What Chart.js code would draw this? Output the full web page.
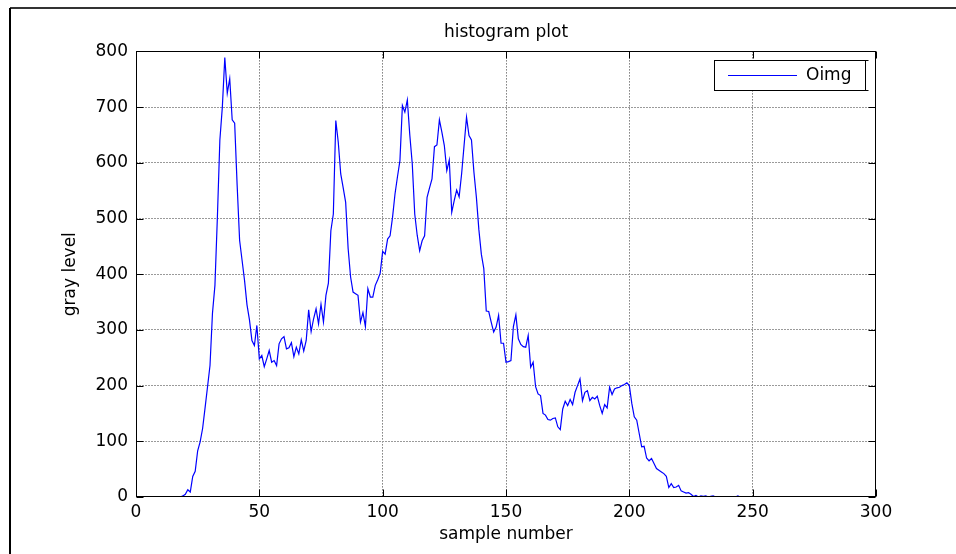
<!DOCTYPE html>
<html>
<head>
<meta charset="utf-8">
<title>histogram plot</title>
<script src="https://cdn.jsdelivr.net/npm/chart.js@4/dist/chart.umd.min.js"></script>
<style>
  html, body { margin: 0; padding: 0; background: #fff; }
  canvas { display: block; }
</style>
</head>
<body>
<canvas id="histChart" width="956" height="554"></canvas>
<script>
// gray level count per sample (sample 1..256)
const grayLevels = [
  0, 0, 0, 0, 0, 0, 0, 0, 0, 0,
  0, 0, 0, 0, 0, 0, 0, 0, 2, 5,
  13, 9, 37, 46, 83, 99, 123, 160, 198, 236,
  330, 380, 503, 641, 700, 789, 725, 751, 677, 671,
  560, 461, 425, 389, 345, 318, 281, 272, 308, 248,
  254, 234, 248, 263, 242, 245, 236, 275, 284, 288,
  266, 268, 277, 252, 269, 257, 282, 262, 281, 336,
  297, 320, 338, 311, 346, 314, 362, 384, 478, 508,
  676, 637, 580, 555, 529, 446, 395, 368, 365, 362,
  314, 331, 306, 374, 359, 359, 380, 390, 402, 441,
  436, 463, 469, 502, 544, 575, 604, 703, 691, 713,
  650, 598, 508, 470, 442, 460, 469, 538, 555, 571,
  629, 632, 677, 655, 631, 586, 605, 511, 532, 551,
  539, 580, 631, 682, 649, 641, 583, 538, 480, 436,
  410, 334, 333, 314, 296, 305, 326, 276, 276, 242,
  243, 245, 306, 327, 284, 274, 270, 269, 290, 233,
  242, 198, 185, 182, 150, 147, 139, 138, 141, 142,
  126, 121, 158, 172, 164, 175, 166, 188, 200, 212,
  173, 188, 191, 173, 179, 176, 181, 164, 150, 166,
  160, 197, 184, 194, 196, 197, 200, 202, 205, 200,
  168, 144, 138, 114, 90, 91, 70, 65, 69, 60,
  51, 48, 45, 42, 37, 17, 24, 17, 18, 21,
  11, 9, 7, 8, 5, 1, 3, 0, 2, 1,
  2, 0, 1, 2, 0, 0, 0, 0, 0, 0,
  0, 0, 0, 2, 0, 0, 0, 0, 0, 0,
  0, 0, 0, 0, 0, 0
];
const xTickValues = [0, 50, 100, 150, 200, 250, 300];
const yTickValues = [0, 100, 200, 300, 400, 500, 600, 700, 800];
const seriesName = 'Oimg';
const chartTitle = 'histogram plot';
const xAxisTitle = 'sample number';
const yAxisTitle = 'gray level';

const FONT = "'DejaVu Sans', 'Liberation Sans', Arial, sans-serif";

// matlab style: plot(h) puts sample k at x = k
const points = grayLevels.map((v, i) => ({ x: i + 1, y: v }));

// white figure with the grey window edge on top / left
const figureFrame = {
  id: 'figureFrame',
  beforeDraw(chart) {
    const ctx = chart.ctx;
    ctx.save();
    ctx.fillStyle = '#fff';
    ctx.fillRect(0, 0, chart.width, chart.height);
    ctx.lineWidth = 2;
    ctx.strokeStyle = '#333';
    ctx.beginPath();
    ctx.moveTo(10, 8);
    ctx.lineTo(chart.width, 8);
    ctx.stroke();
    ctx.strokeStyle = '#000';
    ctx.beginPath();
    ctx.moveTo(10, 8);
    ctx.lineTo(10, chart.height);
    ctx.stroke();
    ctx.restore();
  }
};

// box round the axes, with the ticks pointing inwards on all four sides
const axesBox = {
  id: 'axesBox',
  afterDatasetsDraw(chart) {
    const { ctx, chartArea: a, scales: { x, y } } = chart;
    const L = Math.round(a.left) + 0.5, R = Math.round(a.right) - 0.5;
    const T = Math.round(a.top) + 0.5, B = Math.round(a.bottom) - 0.5;
    const len = 7;
    ctx.save();
    ctx.strokeStyle = '#000';
    ctx.lineWidth = 1;
    ctx.strokeRect(L, T, R - L, B - T);
    ctx.beginPath();
    x.ticks.forEach(t => {
      const px = Math.round(x.getPixelForValue(t.value)) + 0.5;
      ctx.moveTo(px, B); ctx.lineTo(px, B - len);
      ctx.moveTo(px, T); ctx.lineTo(px, T + len);
    });
    y.ticks.forEach(t => {
      const py = Math.round(y.getPixelForValue(t.value)) + 0.5;
      ctx.moveTo(L, py); ctx.lineTo(L + len, py);
      ctx.moveTo(R, py); ctx.lineTo(R - len, py);
    });
    ctx.stroke();
    ctx.restore();
  }
};

// legend box in the upper right corner of the axes
const cornerLegend = {
  id: 'cornerLegend',
  afterDraw(chart) {
    const ctx = chart.ctx;
    const ds = chart.data.datasets[0];
    const x0 = 714.5, y0 = 60.5, w = 151, h = 30;
    ctx.save();
    ctx.fillStyle = '#fff';
    ctx.fillRect(x0, y0, w, h);
    ctx.strokeStyle = '#000';
    ctx.lineWidth = 1;
    ctx.strokeRect(x0, y0, w, h);
    ctx.beginPath();
    ctx.moveTo(x0 + w, y0); ctx.lineTo(x0 + w + 3, y0);
    ctx.moveTo(x0 + w, y0 + h); ctx.lineTo(x0 + w + 3, y0 + h);
    ctx.stroke();
    ctx.strokeStyle = ds.borderColor;
    ctx.beginPath();
    ctx.moveTo(728, 75.5);
    ctx.lineTo(797, 75.5);
    ctx.stroke();
    ctx.fillStyle = '#000';
    ctx.font = '17px ' + FONT;
    ctx.textBaseline = 'middle';
    ctx.textAlign = 'left';
    ctx.fillText(ds.label, 806, 76);
    ctx.restore();
  }
};

new Chart(document.getElementById('histChart'), {
  type: 'line',
  data: {
    datasets: [{
      label: seriesName,
      data: points,
      borderColor: '#0000ff',
      backgroundColor: '#0000ff',
      borderWidth: 1.2,
      pointRadius: 0,
      tension: 0,
      fill: false
    }]
  },
  options: {
    responsive: false,
    animation: false,
    devicePixelRatio: 1,
    layout: { padding: { left: 10, right: 80, top: 0, bottom: 0 } },
    plugins: {
      legend: { display: false },
      tooltip: { enabled: false },
      title: {
        display: true,
        fullSize: false, // centre over the axes, not the whole figure
        text: chartTitle,
        color: '#000',
        font: { family: FONT, size: 17, weight: 'normal' },
        padding: { top: 22, bottom: 9 }
      }
    },
    scales: {
      x: {
        type: 'linear',
        min: 0,
        max: 300,
        afterBuildTicks: (scale) => { scale.ticks = xTickValues.map(v => ({ value: v })); },
        afterFit: (scale) => { scale.height = 57; },
        ticks: {
          color: '#000',
          padding: 5,
          font: { family: FONT, size: 17 },
          maxRotation: 0,
          autoSkip: false
        },
        grid: {
          drawTicks: false,
          lineWidth: 1,
          color: (c) => (c.tick && (c.tick.value === 0 || c.tick.value === 300)) ? 'rgba(0,0,0,0)' : '#3a3a3a'
        },
        border: { display: false, dash: [1, 2] },
        title: {
          display: true,
          text: xAxisTitle,
          color: '#000',
          font: { family: FONT, size: 17 },
          padding: { top: 0, bottom: 9 }
        }
      },
      y: {
        type: 'linear',
        min: 0,
        max: 800,
        afterBuildTicks: (scale) => { scale.ticks = yTickValues.map(v => ({ value: v })); },
        afterFit: (scale) => { scale.width = 126; },
        ticks: {
          color: '#000',
          padding: 8,
          font: { family: FONT, size: 17 },
          autoSkip: false
        },
        grid: {
          drawTicks: false,
          lineWidth: 1,
          color: (c) => (c.tick && (c.tick.value === 0 || c.tick.value === 800)) ? 'rgba(0,0,0,0)' : '#9a9a9a'
        },
        border: { display: false, dash: [2, 1] },
        title: {
          display: true,
          text: yAxisTitle,
          color: '#000',
          font: { family: FONT, size: 17 },
          padding: { top: 50, bottom: 0 }
        }
      }
    }
  },
  plugins: [figureFrame, axesBox, cornerLegend]
});
</script>
</body>
</html>
